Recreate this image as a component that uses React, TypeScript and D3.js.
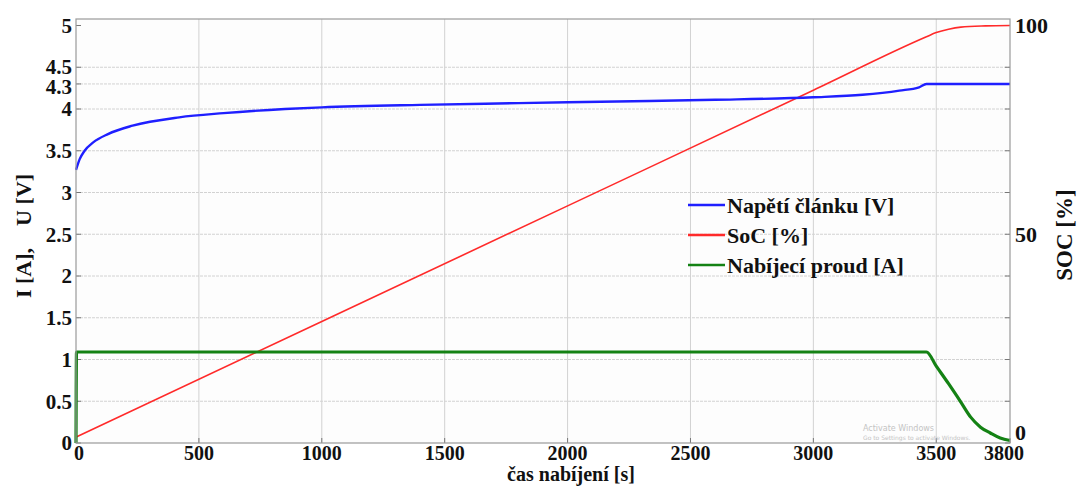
import React from "react";
import * as d3 from "d3";

// time axis ticks [s]
const xTicks = [0, 500, 1000, 1500, 2000, 2500, 3000, 3500, 3800];
// left axis ticks (I [A], U [V])
const yTicks = [0, 0.5, 1, 1.5, 2, 2.5, 3, 3.5, 4, 4.3, 4.5, 5];
// right axis (SOC %)
const socTicks = [0, 10, 20, 30, 40, 50, 60, 70, 80, 90, 100];
const socLabels = [0, 50, 100];

// cell voltage [V]
const timeV = [0, 15, 35, 70, 130, 230, 420, 600, 850, 1000, 1400, 1800, 2200, 2600, 3000, 3200, 3350, 3430, 3460, 3800];
const voltage = [3.27, 3.4, 3.5, 3.6, 3.7, 3.8, 3.9, 3.95, 4.0, 4.02, 4.05, 4.07, 4.09, 4.11, 4.14, 4.17, 4.22, 4.26, 4.3, 4.3];

// state of charge [%]
const timeSoc = [0, 1000, 2000, 3000, 3460, 3500, 3550, 3600, 3700, 3800];
const soc = [1.4, 29.1, 56.8, 84.5, 97.3, 98.3, 99.1, 99.6, 99.9, 100];

// charging current [A]
const timeI = [0, 2, 3460, 3500, 3550, 3600, 3640, 3680, 3720, 3760, 3800];
const current = [0, 1.09, 1.09, 0.92, 0.71, 0.49, 0.31, 0.19, 0.12, 0.06, 0.03];

const W = 1078;
const H = 486;
const m = { top: 19, right: 68, bottom: 43, left: 76 };
const font = "'Liberation Serif', 'Times New Roman', serif";

export default function App() {
  const x = d3.scaleLinear().domain([0, 3800]).range([m.left, W - m.right]);
  const y = d3.scaleLinear().domain([0, 5]).range([H - m.bottom, H - m.bottom - 417.5]);
  const ySoc = d3.scaleLinear().domain([0, 100]).range([y(0), y(5)]);

  const x0 = m.left;
  const x1 = W - m.right;
  const yB = H - m.bottom;
  const yT = m.top;

  const lineV = d3
    .line<number>()
    .x((d, i) => x(timeV[i]))
    .y((d) => y(d))
    .curve(d3.curveMonotoneX);
  const lineSoc = d3
    .line<number>()
    .x((d, i) => x(timeSoc[i]))
    .y((d) => ySoc(d))
    .curve(d3.curveMonotoneX);
  const lineI = d3
    .line<number>()
    .x((d, i) => x(timeI[i]))
    .y((d) => y(d))
    .curve(d3.curveMonotoneX);

  const legend = [
    { label: "Napětí článku [V]", color: "#1f1fff" },
    { label: "SoC [%]", color: "#ff2a2a" },
    { label: "Nabíjecí proud [A]", color: "#148214" },
  ];

  // small label nudges so the tight 4.3 / 4.5 pair reads like the original
  const yLabelShift = (t: number) => (t === 4.3 ? 3 : t === 4.5 ? -1 : 0);

  return (
    <svg
      width={W}
      height={H}
      style={{ position: "absolute", left: 0, top: 0, background: "#fff" }}
      fontFamily={font}
      fontWeight="bold"
    >
      <rect x={x0} y={yT} width={x1 - x0} height={yB - yT} fill="#fdfdfd" />

      {/* grid */}
      <g stroke="#d2d2d2" strokeWidth={1}>
        {xTicks
          .filter((t) => t > 0 && t < 3800)
          .map((t) => (
            <line key={"gx" + t} x1={x(t)} x2={x(t)} y1={yT} y2={yB} />
          ))}
        {yTicks
          .filter((t) => t > 0 && t < 5)
          .map((t) => (
            <line key={"gy" + t} x1={x0} x2={x1} y1={y(t)} y2={y(t)} strokeDasharray="3,1" />
          ))}
      </g>

      {/* tick marks */}
      <g stroke="#777" strokeWidth={1}>
        {yTicks.map((t) => (
          <line key={"ty" + t} x1={x0} x2={x0 + 5} y1={y(t)} y2={y(t)} />
        ))}
        {socTicks.map((t) => (
          <line key={"ts" + t} x1={x1} x2={x1 - 5} y1={ySoc(t)} y2={ySoc(t)} />
        ))}
        {xTicks.map((t) => (
          <line key={"tx" + t} x1={x(t)} x2={x(t)} y1={yB} y2={yB - 5} />
        ))}
      </g>

      {/* series */}
      <path d={lineSoc(soc) ?? ""} fill="none" stroke="#ff2a2a" strokeWidth={1.6} />
      <path d={lineV(voltage) ?? ""} fill="none" stroke="#1f1fff" strokeWidth={2.4} />
      <path d={lineI(current) ?? ""} fill="none" stroke="#148214" strokeWidth={3.2} />

      {/* frame */}
      <rect x={x0} y={yT} width={x1 - x0} height={yB - yT} fill="none" stroke="#9a9a9a" strokeWidth={1.2} />

      {/* left labels */}
      <g fontSize={21} textAnchor="end" fill="#111">
        {yTicks.map((t) => (
          <text key={"ly" + t} x={72} y={y(t) + yLabelShift(t)} dy="0.35em">
            {t}
          </text>
        ))}
      </g>
      {/* right labels */}
      <g fontSize={22} textAnchor="start" fill="#111">
        {socLabels.map((t) => (
          <text key={"ls" + t} x={x1 + 5} y={ySoc(t)} dy={t === 0 ? "-0.15em" : "0.35em"}>
            {t}
          </text>
        ))}
      </g>
      {/* bottom labels */}
      <g fontSize={20} textAnchor="middle" fill="#111">
        {xTicks.map((t) => (
          <text key={"lx" + t} x={t === 0 ? x(t) + 3 : t === 3800 ? x(t) - 6 : x(t)} y={460}>
            {t}
          </text>
        ))}
      </g>

      {/* axis titles */}
      <text x={571} y={481} fontSize={20} textAnchor="middle" fill="#111">
        čas nabíjení [s]
      </text>
      <text
        transform={`translate(31, 236) rotate(-90)`}
        fontSize={22}
        textAnchor="middle"
        fill="#111"
        style={{ whiteSpace: "pre" }}
      >
        {"I [A],    U [V]"}
      </text>
      <text transform={`translate(1072, 235) rotate(-90)`} fontSize={23} textAnchor="middle" fill="#111">
        SOC [%]
      </text>

      {/* legend */}
      <g fontSize={22} fill="#111">
        {legend.map((l, i) => (
          <g key={l.label} transform={`translate(688, ${205 + i * 30})`}>
            <line x1={0} x2={37} y1={0} y2={0} stroke={l.color} strokeWidth={2.5} />
            <text x={39} y={0} dy="0.35em">
              {l.label}
            </text>
          </g>
        ))}
      </g>

      {/* watermark */}
      <g fill="#c4c4c4" fontWeight="normal" fontFamily="'DejaVu Sans', sans-serif">
        <text x={863} y={431} fontSize={8}>
          Activate Windows
        </text>
        <text x={863} y={440} fontSize={6}>
          Go to Settings to activate Windows.
        </text>
      </g>
    </svg>
  );
}
